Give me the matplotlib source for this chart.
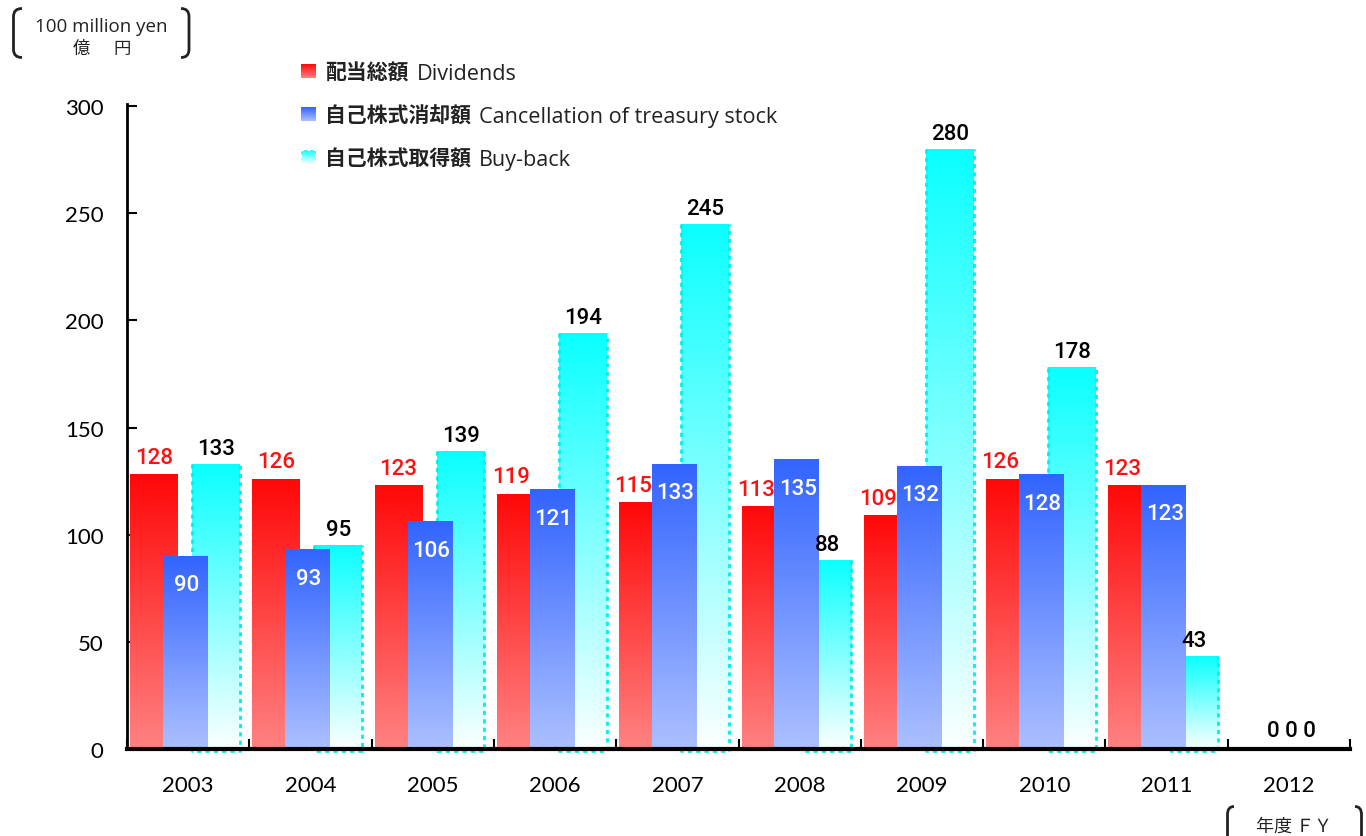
import numpy as np
import matplotlib
matplotlib.use("Agg")
import matplotlib.pyplot as plt
from matplotlib.patches import Rectangle, PathPatch
from matplotlib.path import Path

# ---------------- data ----------------
years = ["2003", "2004", "2005", "2006", "2007", "2008", "2009", "2010", "2011", "2012"]
dividends = [128, 126, 123, 119, 115, 113, 109, 126, 123, 0]
cancellation = [90, 93, 106, 121, 133, 135, 132, 128, 123, 0]
buyback = [133, 95, 139, 194, 245, 88, 280, 178, 43, 0]
y_ticks = [0, 50, 100, 150, 200, 250, 300]
names_jp = ["配当総額", "自己株式消却額", "自己株式取得額"]
names_en = ["Dividends", "Cancellation of treasury stock", "Buy-back"]
unit_en = "100 million yen"
unit_jp = "億　円"
fy_label = "年度 ＦＹ"

# ---------------- style ----------------
W, H = 1366, 837
LAT = "Lato"
OPS = "Open Sans"
CJK = "Noto Sans CJK JP"
NUM = "Roboto"
red_top, red_bot = np.array([255, 8, 8]) / 255, np.array([255, 130, 130]) / 255
blu_top, blu_bot = np.array([50, 100, 255]) / 255, np.array([172, 192, 255]) / 255
cya_top, cya_bot = np.array([10, 255, 255]) / 255, np.array([252, 255, 255]) / 255
CYAN = "#00F0F0"

fig = plt.figure(figsize=(W / 100, H / 100), dpi=100)
ax = fig.add_axes([127 / W, 1 - 750 / H, (1350 - 127) / W, (750 - 105) / H])
ax.patch.set_visible(False)

def grad_bar(x0, w, h, top, bot, z):
    t = np.linspace(0, 1, 256)[:, None]
    cols = bot + (top - bot) * t
    img = cols[:, None, :]
    ax.imshow(img, extent=(x0, x0 + w, 0, h), origin="lower", aspect="auto",
              zorder=z, interpolation="bilinear")

x = np.arange(len(years))
off = [-0.28, -0.026, 0.228]
wid = [0.39, 0.36, 0.39]
dot = dict(color=CYAN, lw=2, linestyle=(0, (1.5, 1.5)), zorder=2.3, clip_on=False,
           solid_capstyle="butt", dash_capstyle="butt")

for i in range(len(years)):
    d, c, b = dividends[i], cancellation[i], buyback[i]
    if d > 0:
        grad_bar(x[i] + off[0] - wid[0] / 2, wid[0], d, red_top, red_bot, 2)
    if b > 0:
        x0 = x[i] + off[2] - wid[2] / 2
        grad_bar(x0, wid[2], b, cya_top, cya_bot, 2.2)
        ax.plot([x0, x0, x0 + wid[2], x0 + wid[2]], [b, -0.9, -0.9, b], **dot)
    if c > 0:
        grad_bar(x[i] + off[1] - wid[1] / 2, wid[1], c, blu_top, blu_bot, 2.5)

    lab_kw = dict(textcoords="offset points", ha="center", va="baseline",
                  fontsize=16, family=NUM, fontweight="medium", zorder=6)
    if d == 0 and c == 0 and b == 0:
        ax.annotate(" ".join(str(v) for v in (d, c, b)), xy=(x[i], 0), xytext=(2, 9.5),
                    color="black", **lab_kw)
        continue
    dx = -7 if c >= d else 0
    ax.annotate(str(d), xy=(x[i] + off[0], d), xytext=(dx, 8.5), color="#FF1010", **lab_kw)
    ax.annotate(str(c), xy=(x[i] + off[1], c), xytext=(1, -24.5), color="white", **lab_kw)
    ax.annotate(str(b), xy=(x[i] + off[2], b), xytext=(0, 7.5), color="black", **lab_kw)

ax.set_xlim(-0.5, len(years) - 0.5)
ax.set_ylim(0, 301)
for s in ["top", "right"]:
    ax.spines[s].set_visible(False)
ax.spines["left"].set_linewidth(2)
ax.spines["bottom"].set_linewidth(3)
for s in ax.spines.values():
    s.set_zorder(5)

ax.set_yticks(y_ticks)
ax.set_yticklabels([str(v) for v in y_ticks], family=LAT, fontsize=16)
ax.tick_params(axis="y", direction="in", length=7, width=1.5, pad=17)
ax.set_xticks(x)
ax.set_xticklabels(years, family=LAT, fontsize=16)
ax.tick_params(axis="x", which="major", length=0, pad=19)
ax.set_xticks(np.arange(-0.5, len(years)), minor=True)
ax.tick_params(axis="x", which="minor", direction="in", length=7, width=1.5)

# ---------------- overlay: legend, unit labels, brackets ----------------
ov = fig.add_axes([0, 0, 1, 1], zorder=-1)
ov.set_xlim(0, W)
ov.set_ylim(H, 0)
ov.axis("off")

def ov_grad(x0, y0, w, h, top, bot):
    t = np.linspace(0, 1, 64)[:, None]
    cols = bot + (top - bot) * t
    ov.imshow(cols[:, None, :], extent=(x0, x0 + w, y0 + h, y0), origin="lower",
              aspect="auto", interpolation="bilinear")

rows = [80, 123, 166]
cols_leg = [(red_top, red_bot), (blu_top, blu_bot), (cya_top, cya_bot)]
jp_texts = []
for k in range(3):
    yb = rows[k]
    ov_grad(301, yb - 15, 15, 14, *cols_leg[k])
    if k == 2:
        ov.add_patch(Rectangle((301, yb - 15), 15, 14, fill=False, edgecolor="white",
                               lw=1.5, linestyle=(0, (1.5, 1.5))))
    t = ov.text(325, yb, names_jp[k], family=CJK, fontweight="bold", fontsize=15,
                ha="left", va="baseline", color="#222222")
    jp_texts.append(t)
ov.set_xlim(0, W)
ov.set_ylim(H, 0)

fig.canvas.draw()
r = fig.canvas.get_renderer()
for k in range(3):
    bb = jp_texts[k].get_window_extent(r)
    ov.text(bb.x1 + 8, rows[k], names_en[k], family=OPS, fontsize=15.6,
            ha="left", va="baseline", color="#222222")

# unit label
ov.text(101.5, 31.5, unit_en, family=OPS, fontsize=13.5, ha="center", va="baseline", color="#222222")
jp_parts = unit_jp.split("　")
ov.text(81, 54, jp_parts[0], family=CJK, fontsize=12.5, ha="center", va="baseline", color="#222222")
ov.text(122, 54, jp_parts[1], family=CJK, fontsize=12.5, ha="center", va="baseline", color="#222222")

def bracket(xv, xh, ytop, ybot, r=8):
    verts = [(xh, ytop), (xv, ytop), (xv, ytop + r), (xv, ybot - r), (xv, ybot), (xh, ybot)]
    codes = [Path.MOVETO, Path.CURVE3, Path.CURVE3, Path.LINETO, Path.CURVE3, Path.CURVE3]
    ov.add_patch(PathPatch(Path(verts, codes), fill=False, lw=2, edgecolor="#222222"))

bracket(13.5, 22, 9.5, 58.5)
bracket(189, 181, 9.5, 58.5)
bracket(1227.5, 1234, 807.5, 845)
bracket(1361.5, 1355, 807.5, 845)
ov.text(1294, 832, fy_label, family=CJK, fontsize=13, ha="center", va="baseline", color="#222222")

fig.savefig("out.png", dpi=100)
